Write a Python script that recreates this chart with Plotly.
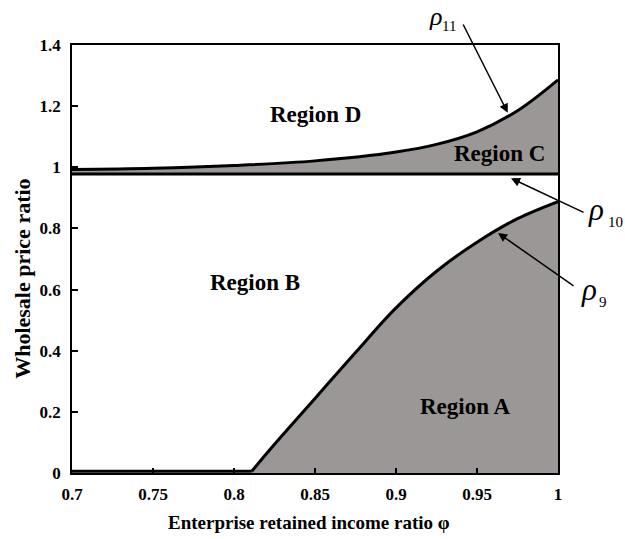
import plotly.graph_objects as go

# Boundary curves in the (phi, wholesale price ratio) plane
phi_flat = [0.7, 0.811]
rho9_flat = [0.006, 0.006]

phi9 = [0.811, 0.825, 0.85, 0.875, 0.9, 0.925, 0.95, 0.975, 1.0]
rho9 = [0.006, 0.094, 0.244, 0.394, 0.54, 0.66, 0.755, 0.832, 0.888]

phi10 = [0.7, 1.0]
rho10 = [0.978, 0.978]

phi11 = [0.7, 0.75, 0.8, 0.85, 0.9, 0.925, 0.95, 0.975, 1.0]
rho11 = [0.993, 0.997, 1.006, 1.021, 1.05, 1.075, 1.116, 1.185, 1.286]

x_ticks = [0.7, 0.75, 0.8, 0.85, 0.9, 0.95, 1.0]
x_ticktext = ["0.7", "0.75", "0.8", "0.85", "0.9", "0.95", "1"]
y_ticks = [0, 0.2, 0.4, 0.6, 0.8, 1.0, 1.2, 1.4]
y_ticktext = ["0", "0.2", "0.4", "0.6", "0.8", "1", "1.2", "1.4"]

region_names = ["Region D", "Region C", "Region B", "Region A"]
region_x = [0.85, 0.964, 0.813, 0.9426]
region_y = [1.174, 1.0435, 0.6225, 0.217]

GRAY = "#9a9796"
SERIF = "Liberation Serif"

fig = go.Figure()

# shaded areas first (no outline)
fig.add_trace(go.Scatter(x=phi10, y=rho10, mode="lines", line=dict(width=0, color=GRAY),
                         hoverinfo="skip"))
fig.add_trace(go.Scatter(x=phi11, y=rho11, mode="lines", line=dict(width=0, color=GRAY, shape="spline"),
                         fill="tonexty", fillcolor=GRAY, hoverinfo="skip"))
fig.add_trace(go.Scatter(x=phi9, y=rho9, mode="lines", line=dict(width=0, color=GRAY, shape="spline"),
                         fill="tozeroy", fillcolor=GRAY, hoverinfo="skip"))

# boundary lines on top
line_style = dict(color="black", width=3)
fig.add_trace(go.Scatter(x=phi_flat, y=rho9_flat, mode="lines", line=line_style))
fig.add_trace(go.Scatter(x=phi9, y=rho9, mode="lines", line=dict(line_style, shape="spline")))
fig.add_trace(go.Scatter(x=phi10, y=rho10, mode="lines", line=line_style))
fig.add_trace(go.Scatter(x=phi11, y=rho11, mode="lines", line=dict(line_style, shape="spline")))

annotations = []
for name, rx, ry in zip(region_names, region_x, region_y):
    annotations.append(dict(x=rx, y=ry, xref="x", yref="y", text=name, showarrow=False,
                            xanchor="center", yanchor="middle",
                            font=dict(family=SERIF, size=23, color="black", weight="bold")))

# pointers to the curves: (head x, head y, tail x, tail y)
pointers = [
    (0.969, 1.178, 0.941, 1.472),
    (0.971, 0.964, 1.0167, 0.850),
    (0.963, 0.785, 1.0105, 0.609),
]
for hx, hy, tx, ty in pointers:
    annotations.append(dict(x=hx, y=hy, xref="x", yref="y", ax=tx, ay=ty, axref="x", ayref="y",
                            text="", showarrow=True, arrowhead=2, arrowsize=1.2, arrowwidth=1.5,
                            arrowcolor="black", standoff=0, startstandoff=0))

# curve labels: rho glyph plus subscript index, in paper coordinates
# (glyph x, glyph y, glyph anchor, glyph size, index, index x, index y)
curve_labels = [
    (0.747, 1.104, "top", 26, "11", 0.7757, 1.0444),
    (1.0782, 0.6145, "middle", 31, "10", 1.1173, 0.5872),
    (1.0638, 0.4276, "middle", 31, "9", 1.0916, 0.3995),
]
for gx, gy, ganchor, gsize, idx, sx, sy in curve_labels:
    annotations.append(dict(x=gx, y=gy, xref="paper", yref="paper", text="ρ", showarrow=False,
                            xanchor="center", yanchor=ganchor,
                            font=dict(family=SERIF, size=gsize, color="black", style="italic")))
    annotations.append(dict(x=sx, y=sy, xref="paper", yref="paper", text=idx, showarrow=False,
                            xanchor="center", yanchor="middle",
                            font=dict(family=SERIF, size=15, color="black")))

# axis titles
annotations.append(dict(x=0.488, y=-0.1168, xref="paper", yref="paper",
                        xanchor="center", yanchor="middle",
                        text="Enterprise retained income ratio φ", showarrow=False,
                        font=dict(family=SERIF, size=19, color="black", weight="bold")))
annotations.append(dict(x=-0.1035, y=0.453, xref="paper", yref="paper", textangle=-90,
                        xanchor="center", yanchor="middle",
                        text="Wholesale price ratio", showarrow=False,
                        font=dict(family=SERIF, size=22, color="black", weight="bold")))

tick_font = dict(family=SERIF, size=17, color="black", weight="bold")
fig.update_layout(
    width=625, height=539,
    margin=dict(l=72, r=67, t=45, b=66),
    paper_bgcolor="white", plot_bgcolor="white",
    showlegend=False,
    annotations=annotations,
    xaxis=dict(range=[0.7, 1.0], tickvals=x_ticks, ticktext=x_ticktext, ticks="inside",
               ticklen=5, tickwidth=1.5, tickcolor="black", showline=True, linecolor="black",
               linewidth=1.5, mirror=True, showgrid=False, zeroline=False, tickfont=tick_font,
               ticklabelstandoff=5),
    yaxis=dict(range=[0, 1.4], tickvals=y_ticks, ticktext=y_ticktext, ticks="inside",
               ticklen=6, tickwidth=1.5, tickcolor="black", showline=True, linecolor="black",
               linewidth=1.5, mirror=True, showgrid=False, zeroline=False, tickfont=tick_font,
               ticklabelstandoff=6),
)

fig.write_html("out.html")
